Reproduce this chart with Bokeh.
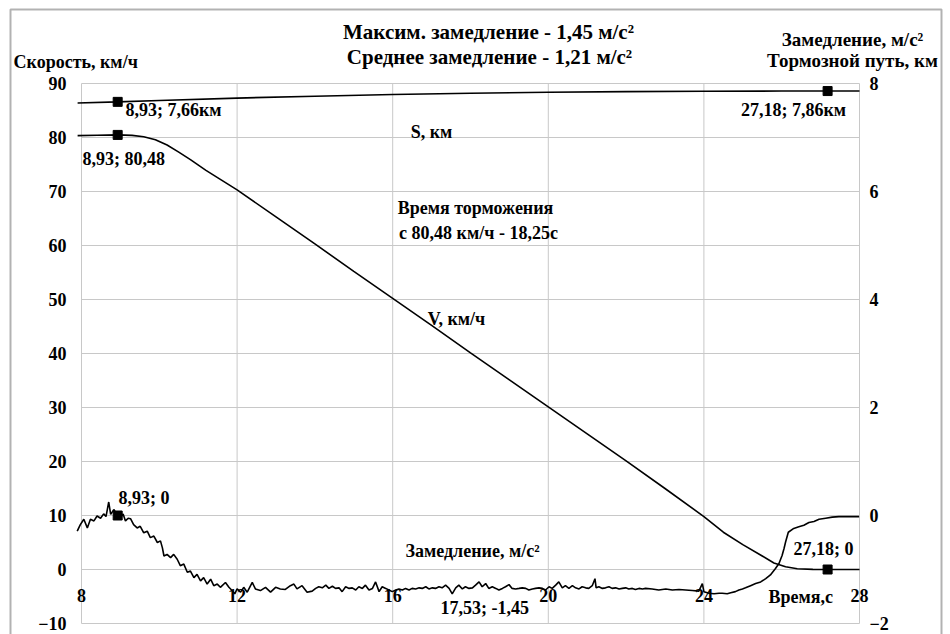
from bokeh.plotting import figure
from bokeh.models import Range1d, LinearAxis, Label, BoxAnnotation, FixedTicker
from bokeh.embed import file_html
from bokeh.resources import INLINE

# ---------------- data ----------------
x_ticks = [8, 12, 16, 20, 24, 28]
left_ticks = [-10, 0, 10, 20, 30, 40, 50, 60, 70, 80, 90]
right_ticks = [-2, 0, 2, 4, 6, 8]

# Speed V, km/h (left axis)
v_t = [7.9, 8.4, 8.93, 9.3, 9.6, 9.9, 10.2, 10.5, 10.8, 11.2, 11.6, 12.0, 13, 14, 15, 16, 17, 18,
       19, 20, 21, 22, 23, 24, 24.5, 25.0, 25.5, 25.8, 26.1, 26.4, 26.8, 27.18, 28]
v_kmh = [80.35, 80.42, 80.48, 80.4, 80.15, 79.6, 78.6, 77.3, 75.9, 73.9, 72.1, 70.3, 65.3, 60.3,
         55.2, 50.2, 45.2, 40.1, 35.1, 30.1, 25.1, 20.1, 15.0, 9.8, 6.9, 4.6, 2.5, 1.2, 0.5, 0.15,
         0.03, 0.0, 0.0]

# Braking distance S, km (right axis)
s_t = [7.9, 8.93, 10, 12, 14, 16, 18, 20, 22, 24, 26, 27.18, 28]
s_km = [7.64, 7.66, 7.685, 7.73, 7.765, 7.795, 7.82, 7.838, 7.85, 7.857, 7.86, 7.86, 7.86]

# Deceleration, m/s^2 (right axis)
dec_t1 = [7.89, 7.97, 8.06, 8.15, 8.23, 8.32, 8.40, 8.49, 8.57, 8.63, 8.70, 8.75, 8.83, 8.93, 9.00,
          9.07, 9.13, 9.20, 9.26, 9.34, 9.43, 9.51, 9.60, 9.69, 9.77, 9.86, 9.95, 10.03, 10.08,
          10.12, 10.20, 10.29, 10.37, 10.46, 10.54, 10.63, 10.72, 10.80, 10.89, 10.97, 11.06,
          11.14, 11.23, 11.32, 11.40, 11.49, 11.57, 11.70, 11.79, 11.87, 11.94, 12.00, 12.09,
          12.17, 12.26, 12.39, 12.47, 12.60, 12.73, 12.86, 12.99, 13.11, 13.24, 13.37, 13.46,
          13.54, 13.67, 13.80, 13.93]
dec_a1 = [-0.29, -0.17, -0.07, -0.23, -0.07, -0.10, -0.01, -0.05, 0.03, -0.02, 0.25, 0.02, 0.11,
          0.00, -0.04, 0.03, -0.10, -0.05, -0.06, -0.17, -0.23, -0.20, -0.32, -0.29, -0.41, -0.38,
          -0.50, -0.47, -0.60, -0.75, -0.72, -0.78, -0.72, -0.81, -0.93, -0.90, -1.05, -1.03,
          -1.15, -1.09, -1.21, -1.15, -1.27, -1.18, -1.30, -1.27, -1.33, -1.24, -1.33, -1.39,
          -1.45, -1.36, -1.42, -1.33, -1.42, -1.24, -1.36, -1.39, -1.33, -1.42, -1.33, -1.36,
          -1.37, -1.30, -1.27, -1.36, -1.30, -1.42, -1.40]
dec_t2 = [14.02, 14.10, 14.19, 14.28, 14.36, 14.45, 14.53, 14.62, 14.70, 14.79, 14.88, 14.96,
          15.05, 15.13, 15.22, 15.30, 15.39, 15.48, 15.56, 15.65, 15.73, 15.82, 15.90, 15.99,
          16.08, 16.16, 16.25, 16.33, 16.42, 16.50, 16.59, 16.68, 16.76, 16.85, 16.93, 17.02,
          17.10, 17.19, 17.27, 17.36, 17.45, 17.53, 17.62, 17.70, 17.79, 17.87, 17.96, 18.05,
          18.13, 18.22, 18.30, 18.39, 18.47, 18.56, 18.65, 18.73, 18.82, 18.90, 18.99, 19.07,
          19.16, 19.25, 19.33, 19.42, 19.50, 19.59, 19.67, 19.76, 19.85, 19.93]
dec_a2 = [-1.35, -1.32, -1.34, -1.29, -1.35, -1.31, -1.35, -1.34, -1.41, -1.32, -1.35, -1.34,
          -1.38, -1.32, -1.35, -1.29, -1.38, -1.35, -1.23, -1.41, -1.32, -1.35, -1.38, -1.41,
          -1.38, -1.36, -1.38, -1.35, -1.38, -1.35, -1.36, -1.34, -1.35, -1.32, -1.36, -1.34,
          -1.35, -1.32, -1.34, -1.29, -1.35, -1.45, -1.34, -1.29, -1.36, -1.32, -1.35, -1.34,
          -1.29, -1.23, -1.32, -1.26, -1.35, -1.32, -1.35, -1.38, -1.35, -1.32, -1.28, -1.35,
          -1.36, -1.35, -1.34, -1.35, -1.38, -1.36, -1.35, -1.34, -1.35, -1.38]
dec_t3 = [20.02, 20.10, 20.19, 20.27, 20.36, 20.44, 20.53, 20.62, 20.70, 20.79, 20.87, 20.96,
          21.04, 21.13, 21.20, 21.23, 21.30, 21.39, 21.47, 21.56, 21.64, 21.73, 21.82, 21.90,
          21.99, 22.07, 22.16, 22.24, 22.33, 22.42, 22.50, 22.67, 22.84, 23.02, 23.19, 23.36,
          23.53, 23.70, 23.87, 23.96, 24.00, 24.13, 24.26, 24.39, 24.47, 24.60, 24.69, 24.81,
          24.90, 24.99, 25.07, 25.20, 25.33, 25.46, 25.59, 25.71, 25.84, 25.93, 26.01, 26.06,
          26.10, 26.17, 26.31, 26.44, 26.57, 26.70, 26.83, 26.96, 27.13, 27.30, 27.47, 27.64,
          27.81, 27.99]
dec_a3 = [-1.32, -1.35, -1.29, -1.23, -1.34, -1.30, -1.35, -1.30, -1.34, -1.36, -1.32, -1.34,
          -1.35, -1.30, -1.17, -1.34, -1.32, -1.35, -1.34, -1.32, -1.35, -1.34, -1.36, -1.35,
          -1.34, -1.36, -1.35, -1.37, -1.35, -1.36, -1.35, -1.36, -1.38, -1.36, -1.38, -1.37,
          -1.38, -1.39, -1.40, -1.26, -1.41, -1.44, -1.45, -1.44, -1.44, -1.45, -1.43, -1.41,
          -1.38, -1.36, -1.34, -1.30, -1.26, -1.23, -1.17, -1.10, -0.98, -0.89, -0.74, -0.61,
          -0.49, -0.31, -0.24, -0.21, -0.18, -0.13, -0.11, -0.07, -0.05, -0.03, -0.02, -0.02,
          -0.02, -0.02]
dec_t = dec_t1 + dec_t2 + dec_t3
dec_a = dec_a1 + dec_a2 + dec_a3

# marked points
v_mark_t = [8.93, 27.18]
v_mark_v = [80.48, 0.0]
s_mark_t = [8.93, 27.18]
s_mark_s = [7.66, 7.86]
a_mark_t = [8.93]
a_mark_a = [0.0]

# ---------------- layout geometry (pixels) ----------------
W, H = 950, 634
PX0, PX1, PY0, PY1 = 81, 859, 83, 623          # plot area in canvas pixels
X_LO, X_HI = x_ticks[0], x_ticks[-1]
Y_LO, Y_HI = left_ticks[0], left_ticks[-1]
R_LO, R_HI = right_ticks[0], right_ticks[-1]
sx = (PX1 - PX0) / (X_HI - X_LO)
sy = (PY1 - PY0) / (Y_HI - Y_LO)
sr = (PY1 - PY0) / (R_HI - R_LO)

FONT = "Liberation Serif"
FS = "18px"
TITLE_FS = "21px"
SIDE_FS = "19px"
GRID = "#c8c8c8"

p = figure(width=W, height=H,
           x_range=Range1d(X_LO - PX0 / sx, X_HI + (W - PX1) / sx),
           y_range=Range1d(Y_LO - (H - PY1) / sy, Y_HI + PY0 / sy),
           output_backend="svg", toolbar_location=None,
           min_border_left=0, min_border_right=0, min_border_top=0, min_border_bottom=0)
p.title.visible = False
p.extra_y_ranges = {"r": Range1d(R_LO - (H - PY1) / sr, R_HI + PY0 / sr)}
p.add_layout(LinearAxis(y_range_name="r"), "right")

p.background_fill_color = "white"
p.border_fill_color = "white"
p.outline_line_color = None
p.grid.visible = False

for ax in p.axis:
    ax.axis_line_color = None
    ax.major_tick_line_color = None
    ax.minor_tick_line_color = None
    ax.major_tick_out = 0
    ax.major_tick_in = 0
    ax.major_label_text_font = FONT
    ax.major_label_text_font_style = "bold"
    ax.major_label_text_font_size = FS
    ax.major_label_text_color = "black"

xa = p.xaxis[0]
xa.ticker = FixedTicker(ticks=x_ticks)
xa.fixed_location = 0
xa.major_label_standoff = 19

ya = p.yaxis[0]
ya.ticker = FixedTicker(ticks=left_ticks)
ya.fixed_location = X_LO
ya.major_label_standoff = 15

ra = p.yaxis[1]
ra.ticker = FixedTicker(ticks=right_ticks)
ra.fixed_location = X_HI
ra.major_label_standoff = 10

# grid of the plot area (also forms its outline)
p.segment(x0=x_ticks, y0=[Y_LO] * len(x_ticks), x1=x_ticks, y1=[Y_HI] * len(x_ticks),
          line_color=GRID, line_width=1)
p.segment(x0=[X_LO] * len(left_ticks), y0=left_ticks, x1=[X_HI] * len(left_ticks), y1=left_ticks,
          line_color=GRID, line_width=1)

# curves
p.line(s_t, s_km, y_range_name="r", line_color="black", line_width=1.6)
p.line(v_t, v_kmh, line_color="black", line_width=1.6)
p.line(dec_t, dec_a, y_range_name="r", line_color="black", line_width=1.6)

p.scatter(v_mark_t, v_mark_v, marker="square", size=9, color="black")
p.scatter(s_mark_t, s_mark_s, marker="square", size=9, color="black", y_range_name="r")
p.scatter(a_mark_t, a_mark_a, marker="square", size=9, color="black", y_range_name="r")


def at(px, py):
    return (X_LO + (px - PX0) / sx, Y_HI - (py - PY0) / sy)


def lab(px, py, text, align="left", size=FS):
    x, y = at(px, py)
    p.add_layout(Label(x=x, y=y, text=text, text_font=FONT, text_font_style="bold",
                       text_font_size=size, text_color="black", text_align=align,
                       text_baseline="middle"))


lab(488, 31, "Максим. замедление - 1,45 м/с²", "center", TITLE_FS)
lab(489, 56, "Среднее замедление - 1,21 м/с²", "center", TITLE_FS)
lab(13, 61, "Скорость, км/ч")
lab(852, 39, "Замедление, м/с²", "center", SIDE_FS)
lab(852, 60, "Тормозной путь, км", "center", SIDE_FS)
lab(431, 131, "S, км", "center")
lab(125, 109, "8,93; 7,66км")
lab(82, 158, "8,93; 80,48")
lab(793, 109, "27,18; 7,86км", "center")
lab(475, 207, "Время торможения", "center")
lab(478, 232, "с 80,48 км/ч - 18,25с", "center")
lab(456, 318, "V, км/ч", "center")
lab(118, 497, "8,93; 0")
lab(405, 550, "Замедление, м/с²")
lab(440, 607, "17,53; -1,45")
lab(793, 548, "27,18; 0")
lab(768, 596, "Время,с")

# outer chart-area frame
(bx0, by0), (bx1, by1) = at(10, 9), at(941, 645)
p.add_layout(BoxAnnotation(left=bx0, right=bx1, top=by0, bottom=by1, fill_color=None,
                           fill_alpha=0, line_color="black", line_width=2))

open("out.html", "w").write(file_html(p, INLINE))
